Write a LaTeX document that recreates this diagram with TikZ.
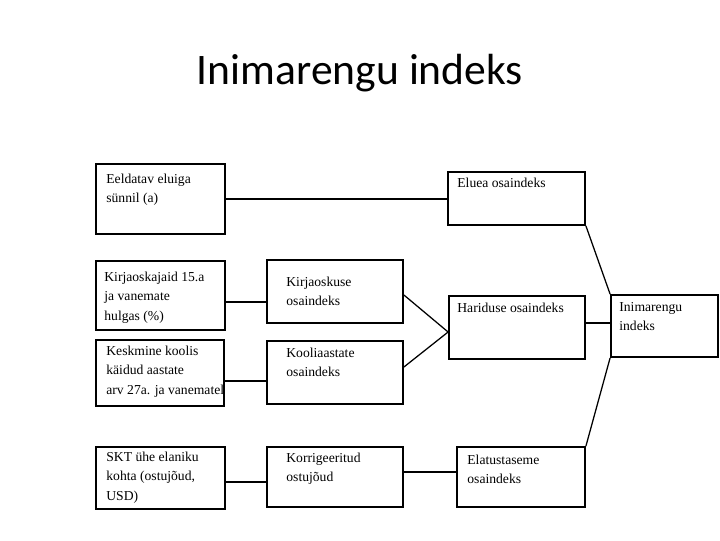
\documentclass[tikz,border=0pt]{standalone}
\usepackage{fontspec}
\setmainfont{Liberation Serif}
\newfontfamily\titlefont{Carlito}
\usetikzlibrary{calc}

\begin{document}
\begin{tikzpicture}[x=0.025cm, y=-0.025cm,
    box/.style={draw, line width=1.3pt, inner sep=0pt},
    txt/.style={anchor=north west, inner sep=0pt, align=left, font=\fontsize{9.7}{13.6}\selectfont},
    link/.style={line width=0.9pt}]
  \useasboundingbox (0,0) rectangle (720,540);
  \node[font=\titlefont\fontsize{31}{36}\selectfont, anchor=base] (title) at (360,84) {Inimarengu indeks};
  % boxes: name / corners / text offset / text
  \foreach \nm/\xa/\ya/\xb/\yb/\dx/\dy/\txt in {
      eluiga/96/164/225/234/11/11/{Eeldatav eluiga\\sünnil (a)},
      kirja/96/261/225/330/9/12/{Kirjaoskajaid 15.a\\ja vanemate\\hulgas (\%)},
      keskm/96/340/224/406/11/7/{Keskmine koolis\\käidud aastate\\arv 27a. ja vanematel},
      skt/96/447/225/509/11/6/{SKT ühe elaniku\\kohta (ostujõud,\\USD)},
      kirjosk/267/260/403/323/20/18/{Kirjaoskuse\\osaindeks},
      kool/267/341/403/404/20/8/{Kooliaastate\\osaindeks},
      korr/267/447/403/507/20/7/{Korrigeeritud\\ostujõud},
      eluea/448/172/585/225/10/7/{Eluea osaindeks},
      harid/449/296/585/359/9/8/{Hariduse osaindeks},
      elat/457/447/585/507/11/9/{Elatustaseme\\osaindeks},
      inim/611/295/718/357/9/8/{Inimarengu\\indeks}}{
    \node[box, minimum width={(\xb-\xa)*0.025cm}, minimum height={(\yb-\ya)*0.025cm}]
         (\nm) at ({(\xa+\xb)/2},{(\ya+\yb)/2}) {};
    \node[txt] (\nm-t) at ([shift={(\dx,\dy)}]\nm.north west) {\txt};}
  \draw[link] (eluiga.east) -- (eluiga.east -| eluea.west);
  \draw[link] (kirja.east |- 0,302) -- (kirjosk.west |- 0,302);
  \draw[link] (keskm.east |- 0,381) -- (kool.west |- 0,381);
  \draw[link] (skt.east |- 0,482) -- (korr.west |- 0,482);
  \coordinate (hin) at (harid.west |- 0,332);
  \draw[link] (kirjosk.east |- 0,295) -- (hin) -- (kool.east |- 0,367);
  \draw[link] (korr.east |- 0,472) -- (elat.west |- 0,472);
  \draw[link] (eluea.south east) -- (inim.north west);
  \draw[link] (harid.east |- 0,323) -- (inim.west |- 0,323);
  \draw[link] (elat.north east) -- (inim.south west);
\end{tikzpicture}
\end{document}
